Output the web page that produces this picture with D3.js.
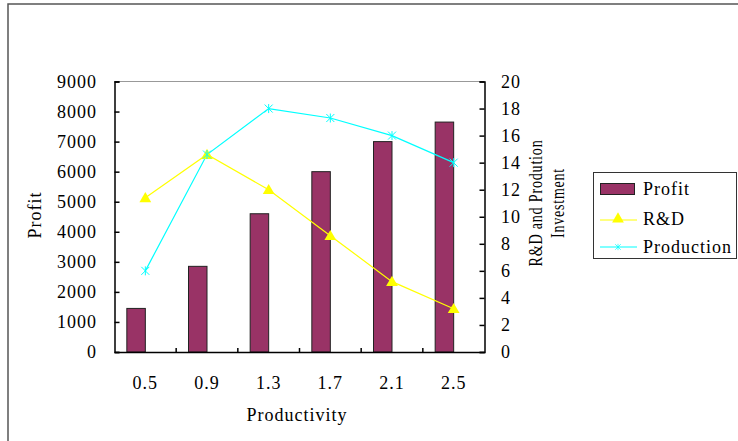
<!DOCTYPE html>
<html>
<head>
<meta charset="utf-8">
<script src="https://cdn.jsdelivr.net/npm/d3@7"></script>
<style>
  body { margin: 0; background: #fff; }
  svg text { font-family: "Liberation Serif", serif; font-size: 18px; letter-spacing: 1px; fill: #000; }
</style>
</head>
<body>
<svg id="chart" width="738" height="441"></svg>
<script>
var categories = ["0.5", "0.9", "1.3", "1.7", "2.1", "2.5"];
var profit = [1450, 2850, 4600, 6000, 7000, 7650];
var rnd = [11.4, 14.6, 12.0, 8.6, 5.2, 3.2];
var production = [6.0, 14.6, 18.0, 17.3, 16.0, 14.0];
var leftTicks = [0, 1000, 2000, 3000, 4000, 5000, 6000, 7000, 8000, 9000];
var rightTicks = [0, 2, 4, 6, 8, 10, 12, 14, 16, 18, 20];

var svg = d3.select("#chart");
var plotLeft = 114.5, plotRight = 484.5, plotTop = 81.5, plotBottom = 352;

var x = d3.scaleBand().domain(categories).range([plotLeft, plotRight]).padding(0);
var yL = d3.scaleLinear().domain([0, 9000]).range([plotBottom, plotTop]);
var yR = d3.scaleLinear().domain([0, 20]).range([plotBottom, plotTop]);
var cx = function(d) { return x(d) + x.bandwidth() / 2; };

// outer chart frame
svg.append("path")
    .attr("d", "M8,441 L8,4 L738,4")
    .attr("fill", "none").attr("stroke", "#555").attr("stroke-width", 1.5);

// plot top border
svg.append("line")
    .attr("x1", plotLeft).attr("x2", plotRight).attr("y1", plotTop).attr("y2", plotTop)
    .attr("stroke", "#999").attr("stroke-width", 1);

// bars
var barW = 18.5;
svg.selectAll("rect.bar").data(profit).enter()
    .append("rect").attr("class", "bar")
    .attr("x", function(d, i) { return cx(categories[i]) - barW; })
    .attr("y", function(d) { return yL(d); })
    .attr("width", barW)
    .attr("height", function(d) { return plotBottom - yL(d); })
    .attr("fill", "#993366").attr("stroke", "#222").attr("stroke-width", 1);

// left axis
var axL = svg.append("g").attr("transform", "translate(" + plotLeft + ",0)")
    .call(d3.axisRight(yL).tickValues(leftTicks).tickSize(5).tickFormat(""));
axL.select(".domain").attr("stroke", "#000").attr("stroke-width", 1.5);
axL.selectAll(".tick line").attr("stroke", "#000").attr("stroke-width", 1.5);
svg.selectAll("text.lt").data(leftTicks).enter()
    .append("text").attr("class", "lt")
    .attr("x", 97).attr("y", function(d) { return yL(d); })
    .attr("dy", "0.35em").attr("text-anchor", "end")
    .text(function(d) { return d; });

// right axis
var axR = svg.append("g").attr("transform", "translate(" + plotRight + ",0)")
    .call(d3.axisLeft(yR).tickValues(rightTicks).tickSize(5).tickFormat(""));
axR.select(".domain").attr("stroke", "#000").attr("stroke-width", 1.5);
axR.selectAll(".tick line").attr("stroke", "#000").attr("stroke-width", 1.5);
svg.selectAll("text.rt").data(rightTicks).enter()
    .append("text").attr("class", "rt")
    .attr("x", 501).attr("y", function(d) { return yR(d); })
    .attr("dy", "0.35em").attr("text-anchor", "start")
    .text(function(d) { return d; });

// bottom axis
var axB = svg.append("g").attr("transform", "translate(0," + plotBottom + ")")
    .call(d3.axisBottom(x).tickSize(0).tickFormat(""));
axB.select(".domain").attr("stroke", "#000").attr("stroke-width", 1.5);
svg.selectAll("line.bt").data(categories.slice(1)).enter()
    .append("line").attr("class", "bt")
    .attr("x1", function(d) { return x(d); }).attr("x2", function(d) { return x(d); })
    .attr("y1", plotBottom).attr("y2", plotBottom - 4)
    .attr("stroke", "#000").attr("stroke-width", 1.5);
svg.selectAll("text.bl").data(categories).enter()
    .append("text").attr("class", "bl")
    .attr("x", cx).attr("y", 383).attr("dy", "0.35em")
    .attr("text-anchor", "middle")
    .text(function(d) { return d; });

// axis titles
svg.append("text").attr("x", 297).attr("y", 415).attr("dy", "0.35em")
    .attr("text-anchor", "middle").text("Productivity");
svg.append("text").attr("transform", "translate(35,215) rotate(-90)")
    .attr("dy", "0.35em").attr("text-anchor", "middle").text("Profit");
svg.append("text").attr("transform", "translate(536,203) rotate(-90)")
    .attr("dy", "0.35em").attr("text-anchor", "middle")
    .attr("textLength", 127).attr("lengthAdjust", "spacingAndGlyphs")
    .text("R&D and Prodution");
svg.append("text").attr("transform", "translate(558,203) rotate(-90)")
    .attr("dy", "0.35em").attr("text-anchor", "middle")
    .attr("textLength", 70).attr("lengthAdjust", "spacingAndGlyphs")
    .text("Investment");

// lines
var line = d3.line().x(function(d, i) { return cx(categories[i]); }).y(function(d) { return yR(d); });
svg.append("path").datum(rnd).attr("d", line)
    .attr("fill", "none").attr("stroke", "#ffff00").attr("stroke-width", 1.2);
svg.append("path").datum(production).attr("d", line)
    .attr("fill", "none").attr("stroke", "#00ffff").attr("stroke-width", 1.2);

var tri = d3.symbol().type(d3.symbolTriangle).size(60);
var star = "M-4,-4L4,4M-4,4L4,-4M0,-4.5L0,4.5";

svg.selectAll("path.tri").data(rnd).enter()
    .append("path").attr("class", "tri")
    .attr("d", tri)
    .attr("transform", function(d, i) { return "translate(" + cx(categories[i]) + "," + (yR(d) + 1) + ")"; })
    .attr("fill", "#ffff00");
svg.selectAll("path.star").data(production).enter()
    .append("path").attr("class", "star")
    .attr("d", star)
    .attr("transform", function(d, i) { return "translate(" + cx(categories[i]) + "," + yR(d) + ")"; })
    .attr("fill", "none").attr("stroke", "#00ffff").attr("stroke-width", 1);

// legend
var lg = svg.append("g");
lg.append("rect").attr("x", 593.5).attr("y", 172.5).attr("width", 143).attr("height", 86)
    .attr("fill", "#fff").attr("stroke", "#333").attr("stroke-width", 1);
lg.append("rect").attr("x", 600.5).attr("y", 183.5).attr("width", 34).attr("height", 11)
    .attr("fill", "#993366").attr("stroke", "#222").attr("stroke-width", 1);
lg.append("line").attr("x1", 600).attr("x2", 637).attr("y1", 220).attr("y2", 220)
    .attr("stroke", "#ffff00").attr("stroke-width", 1.2);
lg.append("path").attr("d", tri).attr("transform", "translate(618,219)").attr("fill", "#ffff00");
lg.append("line").attr("x1", 600).attr("x2", 637).attr("y1", 247).attr("y2", 247)
    .attr("stroke", "#00ffff").attr("stroke-width", 1.2);
lg.append("path").attr("d", star).attr("transform", "translate(618,247) scale(0.7)")
    .attr("fill", "none").attr("stroke", "#00ffff").attr("stroke-width", 1);
var legendNames = ["Profit", "R&D", "Production"];
var legendY = [189, 219, 247];
lg.selectAll("text").data(legendNames).enter()
    .append("text").attr("x", 643).attr("y", function(d, i) { return legendY[i]; })
    .attr("dy", "0.35em").text(function(d) { return d; });
</script>
</body>
</html>
